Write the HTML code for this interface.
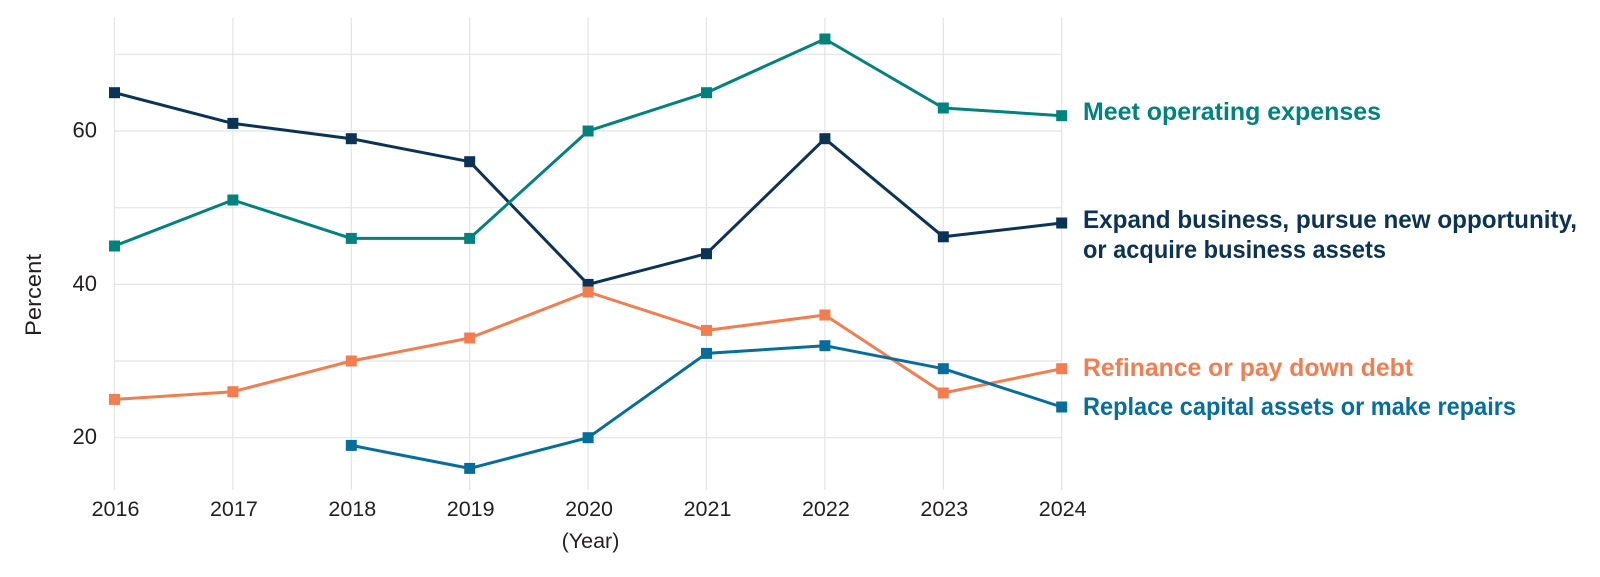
<!DOCTYPE html>
<html>
<head>
<meta charset="utf-8">
<style>
html,body{margin:0;padding:0;background:#fff;}
svg{display:block;}
text{font-family:"Liberation Sans",sans-serif;}
</style>
</head>
<body>
<svg width="1600" height="577" viewBox="0 0 1600 577" xmlns="http://www.w3.org/2000/svg">
<rect width="1600" height="577" fill="#fff"/>
<!-- vertical grid -->
<g stroke="#e4e4e4" stroke-width="1.2">
<line x1="114.5" y1="17.5" x2="114.5" y2="490"/>
<line x1="232.9" y1="17.5" x2="232.9" y2="490"/>
<line x1="351.3" y1="17.5" x2="351.3" y2="490"/>
<line x1="469.7" y1="17.5" x2="469.7" y2="490"/>
<line x1="588.1" y1="17.5" x2="588.1" y2="490"/>
<line x1="706.5" y1="17.5" x2="706.5" y2="490"/>
<line x1="824.9" y1="17.5" x2="824.9" y2="490"/>
<line x1="943.3" y1="17.5" x2="943.3" y2="490"/>
<line x1="1061.7" y1="17.5" x2="1061.7" y2="490"/>
</g>
<!-- horizontal grid -->
<g stroke="#e4e4e4" stroke-width="1.2">
<line x1="114.5" y1="54.3" x2="1061.7" y2="54.3"/>
<line x1="114.5" y1="131" x2="1061.7" y2="131"/>
<line x1="114.5" y1="207.7" x2="1061.7" y2="207.7"/>
<line x1="114.5" y1="284.4" x2="1061.7" y2="284.4"/>
<line x1="114.5" y1="361" x2="1061.7" y2="361"/>
<line x1="114.5" y1="437.7" x2="1061.7" y2="437.7"/>
</g>
<!-- y tick labels -->
<g font-size="22" fill="#231f20" text-anchor="end">
<text x="97" y="137.5">60</text>
<text x="97" y="290.8">40</text>
<text x="97" y="444">20</text>
</g>
<text transform="translate(41,295) rotate(-90)" font-size="22" fill="#231f20" text-anchor="middle" textLength="82" lengthAdjust="spacingAndGlyphs">Percent</text>
<!-- x tick labels -->
<g font-size="21.5" fill="#231f20" text-anchor="middle">
<text x="115.5" y="516">2016</text>
<text x="233.9" y="516">2017</text>
<text x="352.3" y="516">2018</text>
<text x="470.7" y="516">2019</text>
<text x="589.1" y="516">2020</text>
<text x="707.5" y="516">2021</text>
<text x="825.9" y="516">2022</text>
<text x="944.3" y="516">2023</text>
<text x="1062.7" y="516">2024</text>
</g>
<text x="590.5" y="548" font-size="21.5" fill="#231f20" text-anchor="middle">(Year)</text>

<!-- Series: navy (Expand) -->
<g>
<polyline fill="none" stroke="#0b3356" stroke-width="3" stroke-linejoin="round" points="114.5,92.7 232.9,123.4 351.3,138.7 469.7,161.7 588.1,284.4 706.5,253.7 824.9,138.7 943.3,236.8 1061.7,223"/>
<g fill="#0b3356">
<rect x="109" y="87.2" width="11" height="11"/>
<rect x="227.4" y="117.9" width="11" height="11"/>
<rect x="345.8" y="133.2" width="11" height="11"/>
<rect x="464.2" y="156.2" width="11" height="11"/>
<rect x="582.6" y="278.9" width="11" height="11"/>
<rect x="701" y="248.2" width="11" height="11"/>
<rect x="819.4" y="133.2" width="11" height="11"/>
<rect x="937.8" y="231.3" width="11" height="11"/>
<rect x="1056.2" y="217.5" width="11" height="11"/>
</g>
</g>
<!-- Series: teal (Meet) -->
<g>
<polyline fill="none" stroke="#00827d" stroke-width="3" stroke-linejoin="round" points="114.5,246 232.9,200 351.3,238.4 469.7,238.4 588.1,131 706.5,92.7 824.9,39 943.3,108 1061.7,115.7"/>
<g fill="#00827d">
<rect x="109" y="240.5" width="11" height="11"/>
<rect x="227.4" y="194.5" width="11" height="11"/>
<rect x="345.8" y="232.9" width="11" height="11"/>
<rect x="464.2" y="232.9" width="11" height="11"/>
<rect x="582.6" y="125.5" width="11" height="11"/>
<rect x="701" y="87.2" width="11" height="11"/>
<rect x="819.4" y="33.5" width="11" height="11"/>
<rect x="937.8" y="102.5" width="11" height="11"/>
<rect x="1056.2" y="110.2" width="11" height="11"/>
</g>
</g>
<!-- Series: orange (Refinance) -->
<g>
<polyline fill="none" stroke="#f47d50" stroke-width="3" stroke-linejoin="round" points="114.5,399.4 232.9,391.7 351.3,361 469.7,338 588.1,292 706.5,330.4 824.9,315 943.3,393 1061.7,368.7"/>
<g fill="#f47d50">
<rect x="109" y="393.9" width="11" height="11"/>
<rect x="227.4" y="386.2" width="11" height="11"/>
<rect x="345.8" y="355.5" width="11" height="11"/>
<rect x="464.2" y="332.5" width="11" height="11"/>
<rect x="582.6" y="286.5" width="11" height="11"/>
<rect x="701" y="324.9" width="11" height="11"/>
<rect x="819.4" y="309.5" width="11" height="11"/>
<rect x="937.8" y="387.5" width="11" height="11"/>
<rect x="1056.2" y="363.2" width="11" height="11"/>
</g>
</g>
<!-- Series: blue (Replace) -->
<g>
<polyline fill="none" stroke="#066e9c" stroke-width="3" stroke-linejoin="round" points="351.3,445.4 469.7,468.4 588.1,437.7 706.5,353.4 824.9,345.7 943.3,368.7 1061.7,407"/>
<g fill="#066e9c">
<rect x="345.8" y="439.9" width="11" height="11"/>
<rect x="464.2" y="462.9" width="11" height="11"/>
<rect x="582.6" y="432.2" width="11" height="11"/>
<rect x="701" y="347.9" width="11" height="11"/>
<rect x="819.4" y="340.2" width="11" height="11"/>
<rect x="937.8" y="363.2" width="11" height="11"/>
<rect x="1056.2" y="401.5" width="11" height="11"/>
</g>
</g>

<!-- Direct labels -->
<g font-size="25" font-weight="bold">
<text x="1083" y="120" fill="#00827d" textLength="298" lengthAdjust="spacingAndGlyphs">Meet operating expenses</text>
<text x="1083" y="228" fill="#0b3356" textLength="494" lengthAdjust="spacingAndGlyphs">Expand business, pursue new opportunity,</text>
<text x="1083" y="258" fill="#0b3356" textLength="303" lengthAdjust="spacingAndGlyphs">or acquire business assets</text>
<text x="1083" y="376" fill="#f47d50" textLength="330" lengthAdjust="spacingAndGlyphs">Refinance or pay down debt</text>
<text x="1083" y="415" fill="#066e9c" textLength="433" lengthAdjust="spacingAndGlyphs">Replace capital assets or make repairs</text>
</g>
</svg>
</body>
</html>
